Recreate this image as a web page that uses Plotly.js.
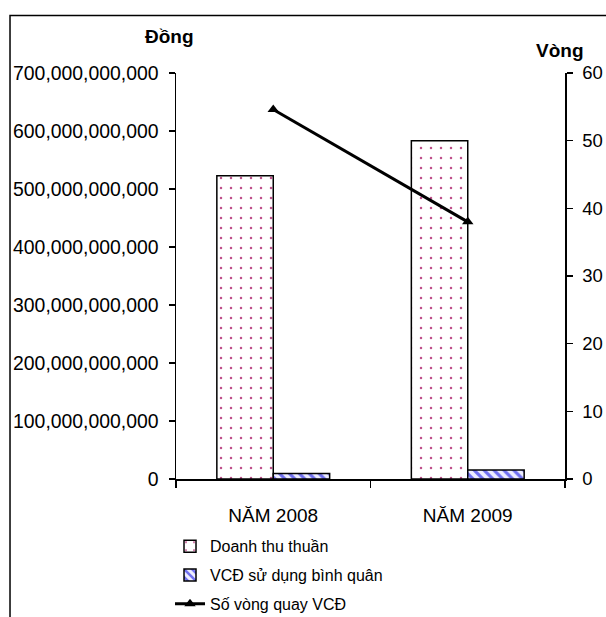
<!DOCTYPE html>
<html>
<head>
<meta charset="utf-8">
<script src="https://cdn.plot.ly/plotly-3.0.1.min.js"></script>
<style>
  html, body { margin: 0; padding: 0; background: #fff; }
  #chart { width: 606px; height: 617px; }
</style>
</head>
<body>
<div id="chart"></div>
<script>
// Categories (years)
const years = ['NĂM 2008', 'NĂM 2009'];

// Net revenue (VND)
const doanhThuThuan = [523e9, 583e9];
// Average fixed capital in use (VND)
const vcdBinhQuan = [9.6e9, 15.4e9];
// Fixed capital turnover (rounds)
const soVongQuay = [54.6, 38.0];

// Axis tick values
const leftTicks = [0, 100e9, 200e9, 300e9, 400e9, 500e9, 600e9, 700e9];
const rightTicks = [0, 10, 20, 30, 40, 50, 60];

const FONT = 'Liberation Sans, Arial, sans-serif';

const traces = [
  {
    type: 'bar',
    name: 'Doanh thu thuần',
    x: years,
    y: doanhThuThuan,
    yaxis: 'y',
    legendgroup: 'a',
    marker: {
      color: '#ffffff',
      line: { color: '#000000', width: 1.5 },
      pattern: { shape: '.', fgcolor: '#c0508c', bgcolor: '#ffffff', size: 10, solidity: 0.05 }
    },
    hoverinfo: 'skip'
  },
  {
    type: 'bar',
    name: 'VCĐ sử dụng bình quân',
    x: years,
    y: vcdBinhQuan,
    yaxis: 'y',
    legendgroup: 'b',
    marker: {
      color: '#ffffff',
      line: { color: '#000000', width: 1.5 },
      pattern: { shape: '\\', fgcolor: '#7070f0', bgcolor: '#eeeeff', size: 7, solidity: 0.45 }
    },
    hoverinfo: 'skip'
  },
  {
    type: 'scatter',
    mode: 'lines+markers',
    name: 'Số vòng quay VCĐ',
    x: years,
    y: soVongQuay,
    yaxis: 'y2',
    legendgroup: 'c',
    line: { color: '#000000', width: 3 },
    marker: { symbol: 'triangle-up', size: 10, color: '#000000' },
    hoverinfo: 'skip'
  }
];

const layout = {
  width: 606,
  height: 617,
  margin: { l: 176, r: 41, t: 73, b: 138, autoexpand: false },
  paper_bgcolor: '#ffffff',
  plot_bgcolor: '#ffffff',
  font: { family: FONT, size: 16, color: '#000000' },
  barmode: 'group',
  bargap: 0.42,
  bargroupgap: 0,
  showlegend: true,
  legend: {
    x: -0.0154, xanchor: 'left',
    y: -0.124, yanchor: 'top',
    orientation: 'v',
    traceorder: 'grouped',
    tracegroupgap: 5,
    font: { family: FONT, size: 16, color: '#000000' },
    bgcolor: 'rgba(0,0,0,0)'
  },
  xaxis: {
    type: 'category',
    showgrid: false,
    zeroline: false,
    showline: true,
    linecolor: '#000000',
    linewidth: 1.5,
    ticks: 'outside',
    tickson: 'boundaries',
    ticklen: 7,
    tickwidth: 1.5,
    tickcolor: '#000000',
    ticklabelstandoff: 19,
    tickfont: { family: FONT, size: 19 }
  },
  xaxis2: {
    overlaying: 'x',
    range: [-0.5, 1.5],
    tickmode: 'array',
    tickvals: [0.5],
    ticks: 'inside',
    ticklen: 7,
    tickwidth: 1.5,
    tickcolor: '#000000',
    showticklabels: false,
    showgrid: false,
    zeroline: false,
    showline: false
  },
  yaxis: {
    range: [0, 700e9],
    tickmode: 'array',
    tickvals: leftTicks,
    tickformat: ',d',
    showgrid: false,
    zeroline: false,
    showline: true,
    linecolor: '#000000',
    linewidth: 1.5,
    ticks: 'outside',
    ticklen: 6,
    tickwidth: 1.5,
    tickcolor: '#000000',
    ticklabelstandoff: 6,
    tickfont: { family: FONT, size: 19.4 }
  },
  yaxis3: {
    overlaying: 'y',
    side: 'left',
    range: [0, 700e9],
    tickmode: 'array',
    tickvals: leftTicks,
    ticks: 'inside',
    ticklen: 5,
    tickwidth: 1.5,
    tickcolor: '#000000',
    showticklabels: false,
    showgrid: false,
    zeroline: false,
    showline: false
  },
  yaxis2: {
    overlaying: 'y',
    side: 'right',
    range: [0, 60],
    tickmode: 'array',
    tickvals: rightTicks,
    showgrid: false,
    zeroline: false,
    showline: true,
    linecolor: '#000000',
    linewidth: 1.5,
    ticks: 'outside',
    ticklen: 6,
    tickwidth: 1.5,
    tickcolor: '#000000',
    ticklabelstandoff: 6,
    tickfont: { family: FONT, size: 18.5 }
  },
  yaxis4: {
    overlaying: 'y',
    side: 'right',
    range: [0, 60],
    tickmode: 'array',
    tickvals: rightTicks,
    ticks: 'inside',
    ticklen: 5,
    tickwidth: 1.5,
    tickcolor: '#000000',
    showticklabels: false,
    showgrid: false,
    zeroline: false,
    showline: false
  },
  annotations: [
    {
      text: '<b>Đồng</b>', xref: 'paper', yref: 'paper',
      x: 0.0514, y: 1.09, xanchor: 'right', yanchor: 'middle',
      showarrow: false, font: { family: FONT, size: 19 }
    },
    {
      text: '<b>Vòng</b>', xref: 'paper', yref: 'paper',
      x: 0.987, y: 1.056, xanchor: 'center', yanchor: 'middle',
      showarrow: false, font: { family: FONT, size: 19 }
    }
  ],
  shapes: [
    {
      // chart frame (left and top edges)
      type: 'path', xref: 'paper', yref: 'paper',
      path: 'M -0.4267,-0.34 L -0.4267,1.1418 L 1.11,1.1418',
      line: { color: '#000000', width: 1.5 }
    }
  ]
};

Plotly.newPlot('chart', traces, layout, { staticPlot: true, displayModeBar: false });
</script>
</body>
</html>
